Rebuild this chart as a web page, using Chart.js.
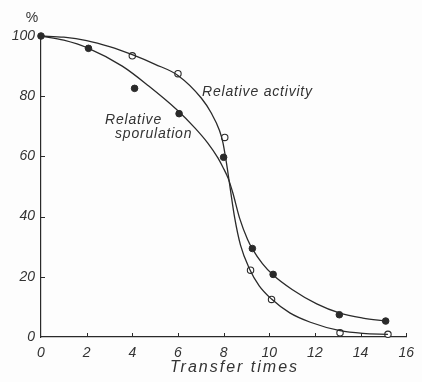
<!DOCTYPE html>
<html>
<head>
<meta charset="utf-8">
<script src="https://cdn.jsdelivr.net/npm/chart.js@4"></script>
<style>
html,body{margin:0;padding:0;background:#fdfdfd;}
#c{display:block;}
</style>
</head>
<body>
<canvas id="c" width="422" height="382"></canvas>
<script>
// ---- data ----
const xTicks = [0, 2, 4, 6, 8, 10, 12, 14, 16];
const yTicks = [0, 20, 40, 60, 80, 100];

// measured points: relative sporulation (filled circles)
const sporulationX = [0, 2.08, 4.1, 6.05, 8.0, 9.26, 10.17, 13.07, 15.1];
const sporulationY = [100, 95.9, 82.6, 74.2, 59.7, 29.4, 20.8, 7.4, 5.3];

// measured points: relative activity (open circles)
const activityX = [4.0, 6.0, 8.05, 9.18, 10.1, 13.1, 15.2];
const activityY = [93.4, 87.5, 66.3, 22.2, 12.5, 1.4, 0.9];

// fitted curve: relative sporulation
const sporCurveX = [0, 1.0, 2.08, 3.56, 4.72, 5.94, 6.75, 7.3, 7.75, 7.97, 8.2, 8.4, 8.7, 9.05, 9.26, 9.7, 10.17, 11.0, 12.08, 13.07, 14.1, 15.1];
const sporCurveY = [100, 98.6, 95.9, 90.0, 83.4, 75.6, 69.4, 64.5, 59.5, 56.4, 52.7, 48.0, 39.5, 32.4, 29.3, 24.4, 20.6, 15.8, 11.0, 8.0, 6.3, 5.3];

// fitted curve: relative activity
const actCurveX = [0, 1.0, 2.0, 3.0, 4.0, 5.0, 6.0, 7.02, 7.46, 7.82, 7.97, 8.1, 8.23, 8.3, 8.48, 8.74, 9.13, 9.56, 10.1, 10.9, 11.8, 13.1, 14.1, 15.2];
const actCurveY = [100, 99.6, 98.5, 96.5, 93.8, 90.6, 86.9, 79.4, 74.4, 68.6, 64.6, 59.0, 52.5, 48.8, 39.8, 30.5, 22.7, 17.0, 12.6, 8.0, 4.9, 2.1, 1.2, 0.9];

const xTitle = 'Transfer times';
const yUnit = '%';
const labelActivity = 'Relative activity';
const labelSporulation = ['Relative', 'sporulation'];

// ---- build ----
const INK = '#2a2a2a';
const TXT = '#333333';
const FONT = '"Liberation Sans", Arial, sans-serif';
const pts = (xs, ys) => xs.map((x, i) => ({x: x, y: ys[i]}));

const decor = {
  id: 'decor',
  afterDraw(chart) {
    const {ctx, scales: {x, y}} = chart;
    ctx.save();
    ctx.strokeStyle = INK;
    ctx.lineWidth = 1;
    // inward tick marks
    const x0 = x.getPixelForValue(0);
    const y0 = y.getPixelForValue(0);
    yTicks.forEach(v => {
      if (v === 0) return;
      const py = Math.round(y.getPixelForValue(v)) + 0.5;
      ctx.beginPath(); ctx.moveTo(x0, py); ctx.lineTo(x0 + 4, py); ctx.stroke();
    });
    xTicks.forEach(v => {
      if (v === 0) return;
      const px = Math.round(x.getPixelForValue(v)) + 0.5;
      ctx.beginPath(); ctx.moveTo(px, y0); ctx.lineTo(px, y0 - 4); ctx.stroke();
    });
    ctx.fillStyle = TXT;
    ctx.textBaseline = 'alphabetic';
    // unit
    ctx.font = '14px ' + FONT;
    ctx.textAlign = 'center';
    ctx.fillText(yUnit, 32, 22);
    // axis title
    ctx.font = 'italic 16px ' + FONT;
    ctx.letterSpacing = '2px';
    ctx.textAlign = 'left';
    ctx.fillText(xTitle, 170, 372);
    // annotations
    ctx.font = 'italic 14px ' + FONT;
    ctx.letterSpacing = '0.8px';
    ctx.fillText(labelActivity, 202, 96);
    ctx.fillText(labelSporulation[0], 105, 124);
    ctx.fillText(labelSporulation[1], 115, 138);
    ctx.restore();
  }
};

new Chart(document.getElementById('c'), {
  type: 'scatter',
  data: {
    datasets: [
      {data: pts(actCurveX, actCurveY), showLine: true, pointRadius: 0, borderColor: INK, borderWidth: 1.3,
       cubicInterpolationMode: 'monotone', clip: false},
      {data: pts(sporCurveX, sporCurveY), showLine: true, pointRadius: 0, borderColor: INK, borderWidth: 1.3,
       cubicInterpolationMode: 'monotone', clip: false},
      {data: pts(activityX, activityY), pointRadius: 3.2, pointBackgroundColor: '#ffffff',
       pointBorderColor: INK, pointBorderWidth: 1.1, clip: false},
      {data: pts(sporulationX, sporulationY), pointRadius: 3.3, pointBackgroundColor: INK,
       pointBorderColor: INK, pointBorderWidth: 1, clip: false}
    ]
  },
  options: {
    responsive: false,
    animation: false,
    devicePixelRatio: 1,
    layout: {padding: {left: 0, right: 10, top: 36, bottom: 0}},
    plugins: {legend: {display: false}, tooltip: {enabled: false}},
    events: [],
    scales: {
      x: {
        type: 'linear', min: 0, max: 16,
        afterBuildTicks: s => { s.ticks = xTicks.map(v => ({value: v})); },
        afterFit: s => { s.height = 45; },
        grid: {display: false, drawTicks: false},
        border: {display: true, color: INK, width: 1.2},
        ticks: {color: TXT, padding: 8, maxRotation: 0, autoSkip: false,
                font: {family: FONT, size: 14, style: 'italic'}}
      },
      y: {
        type: 'linear', min: 0, max: 100,
        afterBuildTicks: s => { s.ticks = yTicks.map(v => ({value: v})); },
        afterFit: s => { s.width = 41; },
        grid: {display: false, drawTicks: false},
        border: {display: true, color: INK, width: 1.2},
        ticks: {color: TXT, padding: 6,
                font: {family: FONT, size: 14, style: 'italic'}}
      }
    }
  },
  plugins: [decor]
});
</script>
</body>
</html>
